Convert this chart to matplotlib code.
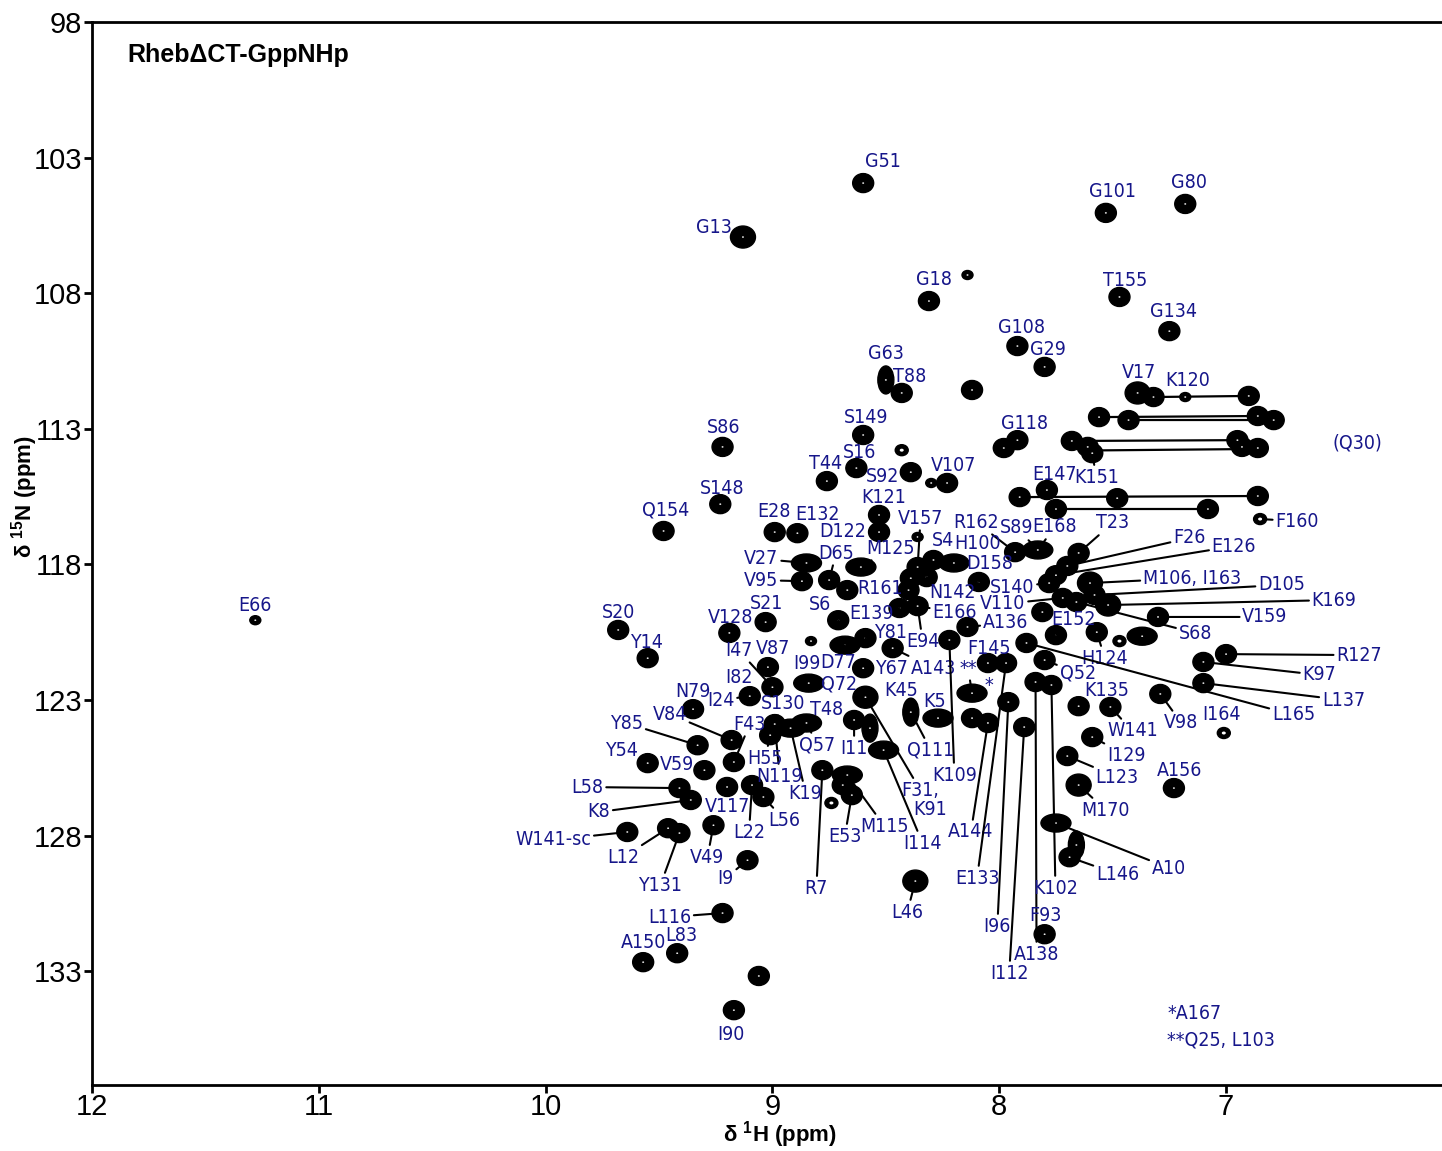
import matplotlib
matplotlib.use("Agg")
import matplotlib.pyplot as plt
from matplotlib.patches import Ellipse

# peak positions (1H ppm, 15N ppm, contour kind: n normal, b big, s small, w wide, t tall, r ring)
peaks_upper = [
    (8.60, 103.94, 'n'), (9.13, 105.93, 'b'), (8.31, 108.29, 'n'), (8.14, 107.33, 's'),
    (7.53, 105.04, 'n'), (7.18, 104.71, 'n'), (7.47, 108.14, 'n'), (7.25, 109.40, 'n'),
    (7.92, 109.95, 'n'), (7.80, 110.72, 'n'), (8.50, 111.20, 't'), (8.43, 111.68, 'n'),
    (8.12, 111.57, 'n'), (7.39, 111.68, 'b'), (7.32, 111.83, 'n'), (7.18, 111.83, 's'),
    (6.90, 111.79, 'n'), (7.56, 112.57, 'n'), (7.43, 112.68, 'n'), (6.86, 112.53, 'n'),
    (6.79, 112.68, 'n'), (7.68, 113.45, 'n'), (7.61, 113.67, 'n'), (7.59, 113.90, 'n'),
    (6.95, 113.42, 'n'), (6.93, 113.67, 'n'), (6.86, 113.71, 'n'), (7.91, 115.52, 'n'),
    (7.48, 115.56, 'n'), (6.86, 115.48, 'n'), (7.75, 115.96, 'n'), (7.08, 115.96, 'n'),
    (6.85, 116.33, 'r'), (7.79, 115.26, 'n'),
]
peaks_left = [
    (9.22, 113.67, 'n'), (9.23, 115.78, 'n'), (9.48, 116.77, 'n'), (11.28, 120.06, 's'),
    (9.68, 120.42, 'n'), (9.55, 121.46, 'n'), (8.99, 116.81, 'n'), (8.89, 116.85, 'n'),
    (8.85, 117.95, 'w'), (8.87, 118.62, 'n'), (9.19, 120.53, 'n'), (9.03, 120.13, 'n'),
    (9.02, 121.79, 'n'), (9.00, 122.53, 'n'), (9.10, 122.86, 'n'), (9.35, 123.34, 'n'),
    (9.33, 124.67, 'n'), (9.18, 124.48, 'n'), (9.17, 125.29, 'n'), (9.55, 125.33, 'n'),
    (9.30, 125.59, 'n'), (9.41, 126.25, 'n'), (9.36, 126.69, 'n'), (9.20, 126.21, 'n'),
    (9.09, 126.14, 'n'), (9.04, 126.58, 'n'), (9.64, 127.87, 'n'), (9.46, 127.73, 'n'),
    (9.41, 127.91, 'n'), (9.26, 127.62, 'n'), (9.11, 128.91, 'n'), (9.22, 130.86, 'n'),
    (9.57, 132.67, 'n'), (9.42, 132.34, 'n'), (9.06, 133.18, 'n'), (9.17, 134.44, 'n'),
    (8.99, 123.89, 'n'), (8.92, 124.04, 'w'), (9.01, 124.30, 'n'), (8.85, 123.85, 'w'),
    (8.84, 122.38, 'w'), (8.83, 120.83, 's'),
]
peaks_center = [
    (8.60, 113.23, 'n'), (8.43, 113.79, 'r'), (8.63, 114.45, 'n'), (8.76, 114.93, 'n'),
    (8.39, 114.60, 'n'), (8.30, 115.00, 's'), (8.23, 115.00, 'n'), (8.53, 116.18, 'n'),
    (8.53, 116.81, 'n'), (7.98, 113.71, 'n'), (7.92, 113.42, 'n'), (8.36, 116.99, 's'),
    (7.93, 117.55, 'n'), (7.83, 117.47, 'w'), (8.29, 117.84, 'n'), (8.20, 117.95, 'w'),
    (8.61, 118.10, 'w'), (8.75, 118.58, 'n'), (8.09, 118.65, 'n'), (8.36, 118.10, 'n'),
    (8.32, 118.47, 'n'), (8.39, 118.51, 'n'), (8.67, 118.95, 'n'), (8.40, 118.95, 'n'),
    (8.71, 120.06, 'n'), (8.44, 119.61, 'n'), (8.36, 119.54, 'n'), (8.59, 120.72, 'n'),
    (8.47, 121.09, 'n'), (8.22, 120.79, 'n'), (8.14, 120.31, 'n'), (8.68, 120.98, 'w'),
    (8.60, 121.83, 'n'), (8.59, 122.90, 'b'), (8.39, 123.45, 't'), (8.27, 123.67, 'w'),
    (8.12, 122.75, 'w'), (8.05, 121.64, 'n'), (7.97, 121.64, 'n'), (7.96, 123.08, 'n'),
    (8.12, 123.67, 'n'), (8.05, 123.85, 'n'), (7.89, 124.00, 'n'), (7.84, 122.34, 'n'),
    (7.77, 122.45, 'n'), (8.64, 123.74, 'n'), (8.57, 124.04, 't'), (8.51, 124.85, 'w'),
    (8.78, 125.59, 'n'), (8.67, 125.77, 'w'), (8.69, 126.14, 'n'), (8.74, 126.80, 'r'),
    (8.65, 126.51, 'n'), (8.37, 129.68, 'b'),
]
peaks_right = [
    (7.78, 118.69, 'n'), (7.70, 118.06, 'n'), (7.75, 118.40, 'n'), (7.65, 117.58, 'n'),
    (7.60, 118.69, 'b'), (7.58, 119.13, 'n'), (7.52, 119.50, 'b'), (7.72, 119.24, 'n'),
    (7.66, 119.39, 'n'), (7.81, 119.76, 'n'), (7.75, 120.61, 'n'), (7.57, 120.50, 'n'),
    (7.47, 120.83, 'r'), (7.37, 120.65, 'w'), (7.88, 120.90, 'n'), (7.80, 121.53, 'n'),
    (7.30, 119.94, 'n'), (7.00, 121.31, 'n'), (7.10, 121.60, 'n'), (7.10, 122.38, 'n'),
    (7.29, 122.78, 'n'), (7.01, 124.22, 'r'), (7.65, 123.23, 'n'), (7.51, 123.26, 'n'),
    (7.59, 124.37, 'n'), (7.70, 125.07, 'n'), (7.65, 126.14, 'b'), (7.23, 126.25, 'n'),
    (7.75, 127.54, 'w'), (7.69, 128.80, 'n'), (7.66, 128.35, 't'), (7.80, 131.64, 'n'),
]

# side-chain NH2 pairs joined by horizontal lines (h1, n1, h2, n2)
nh2_pairs = [
    (7.32, 111.83, 6.90, 111.79), (7.56, 112.57, 6.86, 112.53), (7.43, 112.68, 6.79, 112.68),
    (7.68, 113.45, 6.95, 113.42), (7.59, 113.80, 6.93, 113.75), (7.91, 115.52, 6.86, 115.48),
    (7.75, 115.96, 7.08, 115.96),
]

# assignments: (name, peak 1H, peak 15N)
labels_top = [
    ('G51', 8.60, 103.94), ('G13', 9.13, 105.93), ('G18', 8.31, 108.29), ('G101', 7.53, 105.04),
    ('G80', 7.18, 104.71), ('T155', 7.47, 108.14), ('G134', 7.25, 109.40), ('G108', 7.92, 109.95),
    ('G29', 7.80, 110.72), ('G63', 8.50, 111.20), ('T88', 8.43, 111.68), ('V17', 7.39, 111.68),
    ('K120', 7.18, 111.83), ('(Q30)', 6.86, 113.71), ('S86', 9.22, 113.67), ('S148', 9.23, 115.78),
    ('Q154', 9.48, 116.77), ('E66', 11.28, 120.06), ('S20', 9.68, 120.42), ('Y14', 9.55, 121.46),
    ('E28', 8.99, 116.81), ('E132', 8.89, 116.85), ('V27', 8.85, 117.95), ('V95', 8.87, 118.62),
    ('S149', 8.60, 113.23), ('S16', 8.63, 114.45), ('T44', 8.76, 114.93), ('S92', 8.39, 114.60),
    ('V107', 8.23, 115.00), ('K121', 8.53, 116.18), ('D122', 8.53, 116.81), ('G118', 7.92, 113.42),
    ('E147', 7.79, 115.26), ('K151', 7.59, 113.90), ('T23', 7.65, 117.58), ('F160', 6.85, 116.33),
]
labels_mid = [
    ('F26', 7.70, 118.06), ('E126', 7.75, 118.40), ('V157', 8.36, 118.10), ('R162', 7.93, 117.55),
    ('S89', 7.83, 117.47), ('E168', 7.83, 117.47), ('S4', 8.29, 117.84), ('H100', 8.20, 117.95),
    ('M125', 8.61, 118.10), ('D65', 8.75, 118.58), ('D158', 8.09, 118.65), ('M106, I163', 7.60, 118.69),
    ('D105', 7.58, 119.13), ('K169', 7.52, 119.50), ('S140', 7.78, 118.69), ('R161', 8.67, 118.95),
    ('N142', 8.32, 118.47), ('V110', 7.72, 119.24), ('S6', 8.71, 120.06), ('E139', 8.44, 119.61),
    ('E166', 8.36, 119.54), ('A136', 8.14, 120.31), ('S68', 7.66, 119.39), ('V159', 7.30, 119.94),
    ('E152', 7.75, 120.61), ('Y81', 8.59, 120.72), ('Y67', 8.60, 121.83), ('A143', 8.47, 121.09),
    ('E94', 8.36, 119.54), ('F145', 8.05, 121.64), ('K109', 8.22, 120.79), ('D77', 8.68, 120.98),
    ('I99', 8.83, 120.83), ('Q72', 8.84, 122.38), ('**', 8.12, 122.75), ('*', 8.05, 121.64),
    ('K45', 8.39, 123.45), ('K5', 8.27, 123.67), ('Q111', 8.39, 123.45), ('T48', 8.64, 123.74),
    ('Q57', 8.85, 123.85), ('I11', 8.64, 123.74), ('F31,', 8.59, 122.90), ('K91', 8.59, 122.90),
    ('I114', 8.51, 124.85), ('M115', 8.67, 125.77), ('E53', 8.65, 126.51), ('R7', 8.78, 125.59),
    ('K19', 8.92, 124.04),
]
labels_low = [
    ('L56', 9.04, 126.58), ('L22', 9.09, 126.14), ('V117', 9.20, 126.21), ('N119', 8.99, 123.89),
    ('H55', 9.01, 124.30), ('F43', 9.17, 125.29), ('S130', 8.99, 123.89), ('I82', 9.10, 122.86),
    ('I24', 9.10, 122.86), ('I47', 9.00, 122.53), ('V87', 9.02, 121.79), ('N79', 9.35, 123.34),
    ('V84', 9.18, 124.48), ('Y85', 9.33, 124.67), ('Y54', 9.55, 125.33), ('V59', 9.30, 125.59),
    ('L58', 9.41, 126.25), ('K8', 9.36, 126.69), ('W141-sc', 9.64, 127.87), ('L12', 9.46, 127.73),
    ('Y131', 9.41, 127.91), ('V49', 9.26, 127.62), ('I9', 9.11, 128.91), ('L116', 9.22, 130.86),
    ('A150', 9.57, 132.67), ('L83', 9.42, 132.34), ('I90', 9.17, 134.44), ('L46', 8.37, 129.68),
    ('V128', 9.19, 120.53), ('S21', 9.03, 120.13),
]
labels_right = [
    ('A144', 8.05, 123.85), ('E133', 7.97, 121.64), ('I96', 7.96, 123.08), ('I112', 7.89, 124.00),
    ('A138', 7.84, 122.34), ('K102', 7.77, 122.45), ('F93', 7.80, 131.64), ('Q52', 7.80, 121.53),
    ('H124', 7.57, 120.50), ('K135', 7.65, 123.23), ('W141', 7.51, 123.26), ('I129', 7.59, 124.37),
    ('L123', 7.70, 125.07), ('M170', 7.65, 126.14), ('A156', 7.23, 126.25), ('A10', 7.75, 127.54),
    ('L146', 7.69, 128.80), ('R127', 7.00, 121.31), ('K97', 7.10, 121.60), ('L137', 7.10, 122.38),
    ('L165', 7.88, 120.90), ('V98', 7.29, 122.78), ('I164', 7.01, 124.22),
]
footnotes = ['*A167', '**Q25, L103']

# label placement: text offset from its peak in pixels (dx right, dy up), leader line yes/no
label_pos = {
    'G51': (20, 22, 0), 'G13': (-29, 10, 0), 'G18': (5, 22, 0), 'G101': (7, 21, 0),
    'G80': (4, 21, 0), 'T155': (6, 16, 0), 'G134': (4, 20, 0), 'G108': (4, 19, 0),
    'G29': (3, 17, 0), 'G63': (0, 26, 0), 'T88': (8, 16, 0), 'V17': (1, 20, 0),
    'K120': (2, 17, 0), '(Q30)': (100, 5, 0), 'S86': (1, 19, 0), 'S148': (2, 16, 0),
    'Q154': (2, 21, 0), 'E66': (0, 15, 0), 'S20': (0, 17, 0), 'Y14': (-1, 16, 0),
    'E28': (-1, 21, 0), 'E132': (20, 19, 0), 'V27': (-45, 4, 1), 'V95': (-41, 1, 1),
    'S149': (3, 17, 0), 'S16': (3, 16, 0), 'T44': (-1, 18, 0), 'S92': (-28, -4, 1),
    'V107': (6, 17, 0), 'K121': (5, 17, 0), 'D122': (-36, 1, 1), 'G118': (7, 17, 0),
    'E147': (8, 16, 0), 'K151': (4, -24, 1), 'T23': (34, 30, 1), 'F160': (37, -2, 1),
    'F26': (122, 28, 1), 'E126': (178, 29, 1), 'V157': (3, 49, 1), 'R162': (-39, 30, 1),
    'S89': (-21, 22, 1), 'E168': (17, 23, 1), 'S4': (10, 20, 1), 'H100': (24, 19, 1),
    'M125': (30, 19, 1), 'D65': (7, 27, 1), 'D158': (11, 18, 1), 'M106, I163': (102, 5, 1),
    'D105': (187, 10, 1), 'K169': (226, 5, 1), 'S140': (-37, -4, 1), 'R161': (33, 2, 1),
    'N142': (26, -15, 1), 'V110': (-60, -6, 1), 'S6': (-18, 16, 1), 'E139': (-28, -5, 1),
    'E166': (37, -6, 1), 'A136': (38, 4, 1), 'S68': (119, -31, 1), 'V159': (107, 0, 1),
    'E152': (18, 16, 1), 'Y81': (25, 6, 1), 'Y67': (28, 0, 1), 'A143': (41, -20, 1),
    'E94': (5, -35, 1), 'F145': (1, 15, 0), 'K109': (5, -135, 1), 'D77': (-7, -17, 1),
    'I99': (-4, -22, 0), 'Q72': (30, -1, 0), '**': (-4, 25, 1), '*': (1, -22, 0),
    'K45': (-10, 22, 1), 'K5': (-3, 17, 0), 'Q111': (20, -38, 1), 'T48': (-27, 11, 1),
    'Q57': (11, -22, 1), 'I11': (0, -28, 1), 'F31,': (55, -93, 1), 'K91': (65, -112, 0),
    'I114': (39, -93, 1), 'M115': (37, -51, 1), 'E53': (-7, -41, 1), 'R7': (-6, -118, 1),
    'K19': (15, -65, 1), 'L56': (21, -23, 1), 'L22': (-3, -47, 1), 'V117': (0, -20, 1),
    'N119': (5, -52, 1), 'H55': (-5, -23, 1), 'F43': (16, 38, 1), 'S130': (8, 21, 1),
    'I82': (-11, 19, 1), 'I24': (-29, -4, 1), 'I47': (-34, 37, 1), 'V87': (5, 19, 0),
    'N79': (0, 18, 0), 'V84': (-62, 26, 1), 'Y85': (-71, 22, 1), 'Y54': (-26, 13, 1),
    'V59': (-27, 6, 1), 'L58': (-92, 1, 1), 'K8': (-92, -12, 1), 'W141-sc': (-74, -8, 1),
    'L12': (-45, -29, 1), 'Y131': (-19, -52, 1), 'V49': (-6, -32, 1), 'I9': (-22, -18, 1),
    'L116': (-53, -4, 1), 'A150': (0, 20, 0), 'L83': (4, 18, 0), 'I90': (-3, -24, 0),
    'L46': (-8, -31, 1), 'V128': (1, 15, 0), 'S21': (1, 19, 0),
    'A144': (-17, -109, 1), 'E133': (-29, -215, 1), 'I96': (-11, -224, 1), 'I112': (-15, -246, 1),
    'A138': (1, -272, 1), 'K102': (4, -203, 1), 'F93': (1, 19, 0), 'Q52': (33, -13, 1),
    'H124': (8, -26, 1), 'K135': (28, 16, 1), 'W141': (22, -24, 1), 'I129': (34, -18, 1),
    'L123': (50, -21, 1), 'M170': (27, -25, 1), 'A156': (6, 18, 0), 'A10': (113, -45, 1),
    'L146': (48, -17, 1), 'R127': (133, -1, 1), 'K97': (116, -13, 1), 'L137': (140, -17, 1),
    'L165': (267, -72, 1), 'V98': (21, -29, 1), 'I164': (-2, 19, 0),
}

# contour sizes in pixels (width, height)
kind_px = {'n': (21, 19), 'b': (25, 22), 's': (11, 9), 'w': (30, 18), 't': (16, 28), 'r': (13, 11)}

plt.rcParams['font.family'] = ['Liberation Sans', 'DejaVu Sans']
plt.rcParams['mathtext.fontset'] = 'custom'
plt.rcParams['mathtext.bf'] = 'Liberation Sans:bold'
plt.rcParams['mathtext.rm'] = 'Liberation Sans'

W, H = 1442, 1151
fig = plt.figure(figsize=(W / 100, H / 100), dpi=100)
ax = fig.add_axes([92 / W, 66 / H, 1350 / W, 1063 / H])
xlo, xhi = 12.0, 6.048
ylo, yhi = 137.2, 98.0
ax.set_xlim(xlo, xhi)
ax.set_ylim(ylo, yhi)
sx = (xlo - xhi) / 1350
sy = (ylo - yhi) / 1063

# NH2 lines
for h1, n1, h2, n2 in nh2_pairs:
    ax.plot([h1, h2], [n1, n2], color='black', lw=1.6, zorder=1)

for group in (peaks_upper, peaks_left, peaks_center, peaks_right):
    for h, n, k in group:
        w, hh = kind_px[k]
        ax.add_patch(Ellipse((h, n), w * sx, hh * sy, facecolor='black',
                             edgecolor='black', lw=1, zorder=2))
        if k == 'r':
            ax.add_patch(Ellipse((h, n), 4 * sx, 3 * sy, facecolor='white',
                                 edgecolor='none', zorder=3))
        else:
            ax.add_patch(Ellipse((h, n), 2 * sx, 1.5 * sy, facecolor='white',
                                 edgecolor='none', zorder=3))

lab_color = '#16168a'
for group in (labels_top, labels_mid, labels_low, labels_right):
    for name, h, n in group:
        dx, dy, line = label_pos[name]
        kw = {}
        if line:
            kw['arrowprops'] = dict(arrowstyle='-', color='black', lw=1.5,
                                    shrinkA=0, shrinkB=5)
        ax.annotate(name, xy=(h, n), xytext=(dx, dy), textcoords='offset pixels',
                    ha='center', va='center', fontsize=14, color=lab_color,
                    family='DejaVu Sans', fontstretch='condensed', zorder=4, **kw)

for i, txt in enumerate(footnotes):
    ax.text(7.26, 134.55 + i * 1.0, txt, ha='left', va='center', fontsize=14,
            color=lab_color, family='DejaVu Sans', fontstretch='condensed')

ax.text(0.026, 0.969, 'RhebΔCT-GppNHp', transform=ax.transAxes, ha='left', va='center',
        fontsize=18, fontweight='bold')

ax.set_xticks([12, 11, 10, 9, 8, 7])
ax.set_yticks([98, 103, 108, 113, 118, 123, 128, 133])
ax.tick_params(direction='out', length=6, width=2, labelsize=21)
ax.tick_params(axis='y', pad=1)
ax.tick_params(axis='x', pad=0)
for s in ('left', 'top', 'bottom'):
    ax.spines[s].set_linewidth(2)
ax.spines['right'].set_visible(False)

fig.text(780 / W, 1 - 1135 / H, 'δ $\\mathbf{^{1}}$H (ppm)', fontsize=16, fontweight='bold',
         ha='center', va='center')
fig.text(25 / W, 1 - 497 / H, 'δ $\\mathbf{^{15}}$N (ppm)', fontsize=16, fontweight='bold',
         ha='center', va='center', rotation=90)

fig.savefig('out.png', dpi=100)
